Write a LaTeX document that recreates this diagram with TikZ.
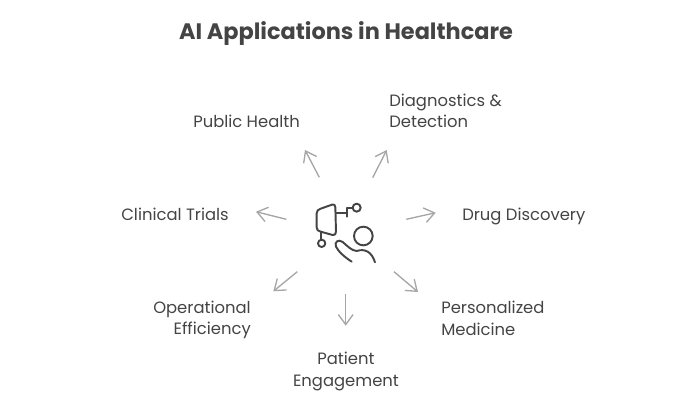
\documentclass[tikz,border=0pt]{standalone}
\usepackage{fontspec}
\setmainfont{Poppins}
\usetikzlibrary{arrows.meta}
\definecolor{ink}{HTML}{444444}
\definecolor{arrowgray}{HTML}{A6A6A6}
\tikzset{
  lbl/.style={text=ink,font=\fontsize{12.3pt}{16.1pt}\selectfont,inner sep=0pt},
  ttl/.style={text=ink,font=\fontsize{16.8pt}{19pt}\selectfont\bfseries,inner sep=0pt},
  spoke/.style={draw=arrowgray,line width=1pt,-{Straight Barb[length=7.5pt,width=11pt,line width=1pt]}},
  icon/.style={draw=ink,line width=1.45pt,line cap=round,line join=round}
}
\begin{document}
\begin{tikzpicture}[x=0.75pt,y=-0.75pt]
\useasboundingbox (0,0) rectangle (700,400);
\node[ttl] (title) at (346,33.5) {AI Applications in Healthcare};
\node[lbl,anchor=base west] (pub) at (193,127) {Public Health};
\node[lbl,anchor=west,align=left] (diag) at (389,111) {Diagnostics \&\\Detection};
\node[lbl,anchor=base west] (drug) at (462,220) {Drug Discovery};
\node[lbl,anchor=base east] (clin) at (229,220) {Clinical Trials};
\node[lbl,anchor=east,align=right] (oper) at (251,320) {Operational\\Efficiency};
\node[lbl,anchor=west,align=left] (pers) at (441,318.5) {Personalized\\Medicine};
\node[lbl,align=center] (pat) at (346,371.5) {Patient\\Engagement};
\coordinate (s1) at (319.3,177.3); \coordinate (e1) at (305,150);
\coordinate (s2) at (372.7,177.7); \coordinate (e2) at (386.7,150);
\coordinate (s3) at (406.3,219.3); \coordinate (e3) at (435.7,212.7);
\coordinate (s4) at (394,271.7);   \coordinate (e4) at (418,292);
\coordinate (s5) at (345.7,294.3); \coordinate (e5) at (345.7,325.7);
\coordinate (s6) at (297.3,271.7); \coordinate (e6) at (273.3,291.3);
\coordinate (s7) at (286.3,219.3); \coordinate (e7) at (256,211.7);
\foreach \i in {1,...,7} {\draw[spoke] (s\i) -- (e\i);}
\begin{scope}[shift={(290,180)},x=0.25pt,y=-0.25pt]
\draw[icon] (80,100) .. controls (80,92) and (84,89) .. (92,86) -- (126,74)
  .. controls (132,72) and (136,74) .. (136,82) -- (138,155)
  .. controls (138,163) and (134,166) .. (128,165) -- (92,155)
  .. controls (84,153) and (80,150) .. (80,142) -- cycle;
\draw[icon] (138,100) -- (170,100);
\draw[icon] (170,110) -- (170,85) -- (188,85);
\draw[icon] (200,83) circle[radius=12];
\draw[icon] (93,155) -- (93,178);
\draw[icon] (95,190) circle[radius=11];
\draw[icon] (220,168) circle[radius=28];
\draw[icon] (185,245) .. controls (165,232) and (145,215) .. (138,200)
  .. controls (132,186) and (146,176) .. (158,186)
  .. controls (172,198) and (185,212) .. (200,213)
  .. controls (225,205) and (245,215) .. (255,247);
\end{scope}
\end{tikzpicture}
\end{document}
